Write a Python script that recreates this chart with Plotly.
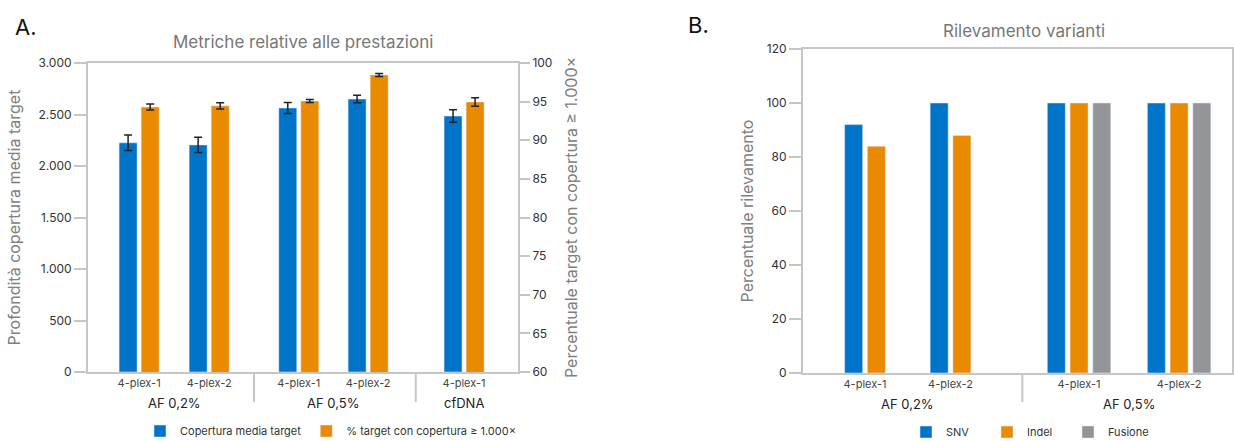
import plotly.graph_objects as go

# ---------------- DATA ----------------
# Chart A
a_groups = ["AF 0,2%", "AF 0,2%", "AF 0,5%", "AF 0,5%", "cfDNA"]
a_labels = ["4-plex-1", "4-plex-2", "4-plex-1", "4-plex-2", "4-plex-1"]
a_cov_mean = [2225, 2205, 2563, 2650, 2485]
a_cov_err = [75, 75, 53, 36, 60]
a_pct_1000 = [94.3, 94.45, 95.08, 98.45, 94.95]
a_pct_err = [0.4, 0.4, 0.2, 0.2, 0.55]

# Chart B
b_groups = ["AF 0,2%", "AF 0,2%", "AF 0,5%", "AF 0,5%"]
b_labels = ["4-plex-1", "4-plex-2", "4-plex-1", "4-plex-2"]
b_snv = [92, 100, 100, 100]
b_indel = [84, 88, 100, 100]
b_fusion_labels = ["4-plex-1", "4-plex-2"]
b_fusion = [100, 100]

# ---------------- LAYOUT CONSTANTS ----------------
W, H = 1234, 441
MB = 48  # bottom margin (legend lives there)
PH = H - MB
BLUE, ORANGE, GREY = "#0074C8", "#EA8A00", "#939598"
AXIS = "#C6C6C6"
FONT = "Inter"

def px_x(p):
    return p / W

def px_y(p):
    return (PH - p) / PH

# category positions (numeric axis so that groups have gaps)
A_POS = [0, 1, 2.28, 3.27, 4.64]
A_RANGE = [-0.73, 5.41]
A_DIV = [1.64, 3.95]
A_BW = 0.257
A_OFF_BLUE, A_OFF_ORANGE = -0.286, 0.029

B_POS = [0, 1, 2.503, 3.673]
B_RANGE = [-0.725, 4.292]
B_DIV = [1.84]
B_BW = 0.2105
B_OFF_SNV = [-0.238, -0.238, -0.371, -0.371]
B_OFF_INDEL = [0.028, 0.028, -0.105, -0.105]
B_FUS_POS = [2.503, 3.673]
B_OFF_FUS = 0.161

fig = go.Figure()

# ---- Chart A traces ----
fig.add_trace(go.Bar(
    x=A_POS, y=a_cov_mean, name="Copertura media target",
    marker_color=BLUE, width=A_BW, offset=A_OFF_BLUE,
    error_y=dict(type="data", array=a_cov_err, color="#222", thickness=1.5, width=4),
    xaxis="x", yaxis="y", legend="legend",
))
fig.add_trace(go.Bar(
    x=A_POS, y=a_pct_1000, name="% target con copertura \u2265 1.000\u00d7",
    marker_color=ORANGE, width=A_BW, offset=A_OFF_ORANGE,
    error_y=dict(type="data", array=a_pct_err, color="#222", thickness=1.5, width=4),
    xaxis="x", yaxis="y2", legend="legend",
))

# ---- Chart B traces ----
fig.add_trace(go.Bar(
    x=B_POS, y=b_snv, name="SNV", marker_color=BLUE,
    width=B_BW, offset=B_OFF_SNV, xaxis="x2", yaxis="y3", legend="legend2",
))
fig.add_trace(go.Bar(
    x=B_POS, y=b_indel, name="Indel", marker_color=ORANGE,
    width=B_BW, offset=B_OFF_INDEL, xaxis="x2", yaxis="y3", legend="legend2",
))
fig.add_trace(go.Bar(
    x=B_FUS_POS, y=b_fusion, name="Fusione", marker_color=GREY,
    width=B_BW, offset=B_OFF_FUS, xaxis="x2", yaxis="y3", legend="legend2",
))

tickfont = dict(family=FONT, size=12, color="#333")
catfont = dict(family=FONT, size=11, color="#444")
titlefont = dict(family=FONT, size=16, color="#808080")

common_y = dict(showline=True, linecolor=AXIS, linewidth=2, ticks="outside",
                tickcolor=AXIS, tickwidth=2, ticklen=12, showgrid=False,
                zeroline=False, tickfont=tickfont, automargin=False)
common_x = dict(showline=True, linecolor=AXIS, linewidth=2, ticks="",
                showgrid=False, zeroline=False, tickfont=catfont, mirror=True,
                automargin=False)

fig.update_layout(
    width=W, height=H, autosize=False,
    margin=dict(l=0, r=0, t=0, b=MB, pad=0, autoexpand=False),
    paper_bgcolor="white", plot_bgcolor="white",
    separators=",.",
    barmode="overlay",
    font=dict(family=FONT),
    xaxis=dict(domain=[px_x(88), px_x(518)], range=A_RANGE, anchor="y",
               tickvals=A_POS, ticktext=a_labels, **common_x),
    yaxis=dict(domain=[px_y(372), px_y(63)], range=[0, 3000], dtick=500,
               anchor="x", separatethousands=True, tickformat=",d",
               title=dict(text="Profondità copertura media target", font=titlefont, standoff=14),
               **common_y),
    yaxis2=dict(overlaying="y", side="right", anchor="x", range=[60, 100], dtick=5,
                title=dict(text="Percentuale target con copertura \u2265 1.000\u00d7",
                           font=titlefont, standoff=14),
                **{**common_y, "ticklen": 10}),
    xaxis2=dict(domain=[px_x(803), px_x(1232)], range=B_RANGE, anchor="y3",
                tickvals=B_POS, ticktext=b_labels, **common_x),
    yaxis3=dict(domain=[px_y(373), px_y(49)], range=[0, 120], dtick=20, anchor="x2",
                mirror=True,
                title=dict(text="Percentuale rilevamento", font=titlefont, standoff=9),
                **common_y),
    legend=dict(orientation="h", x=px_x(140), y=px_y(431), xanchor="left", yanchor="middle",
                font=dict(family=FONT, size=11, color="#333"),
                bgcolor="rgba(0,0,0,0)"),
    legend2=dict(orientation="h", x=px_x(906), y=px_y(432), xanchor="left", yanchor="middle",
                 font=dict(family=FONT, size=11, color="#333"),
                 entrywidth=36, entrywidthmode="pixels", bgcolor="rgba(0,0,0,0)"),
)

annotations = []
shapes = []

def add_groups(groups, pos, xref, ylab):
    seen = []
    for g in groups:
        if g not in seen:
            seen.append(g)
    for g in seen:
        ps = [p for gg, p in zip(groups, pos) if gg == g]
        annotations.append(dict(x=sum(ps) / len(ps), y=px_y(ylab), xref=xref, yref="paper",
                                text=g, showarrow=False, xanchor="center", yanchor="middle",
                                font=dict(family=FONT, size=13, color="#222")))

add_groups(a_groups, A_POS, "x", 403)
add_groups(b_groups, B_POS, "x2", 404)

for d in A_DIV:
    shapes.append(dict(type="line", xref="x", yref="paper", x0=d, x1=d,
                       y0=px_y(372), y1=px_y(402), line=dict(color=AXIS, width=2)))
for d in B_DIV:
    shapes.append(dict(type="line", xref="x2", yref="paper", x0=d, x1=d,
                       y0=px_y(373), y1=px_y(402), line=dict(color=AXIS, width=2)))

def label(x, y, text, size, color, xanchor="center"):
    annotations.append(dict(x=px_x(x), y=px_y(y), xref="paper", yref="paper",
                            text=text, showarrow=False, xanchor=xanchor, yanchor="middle",
                            font=dict(family=FONT, size=size, color=color)))

label(303, 42, "Metriche relative alle prestazioni", 17, "#777")
label(1024, 31, "Rilevamento varianti", 17, "#777")
label(13, 27, "A.", 22, "#111", "left")
label(686, 25, "B.", 22, "#111", "left")

fig.update_layout(annotations=annotations, shapes=shapes)

fig.write_html("out.html", config={"displayModeBar": False},
               post_script="document.body.style.margin='0';document.body.style.overflow='hidden';")
